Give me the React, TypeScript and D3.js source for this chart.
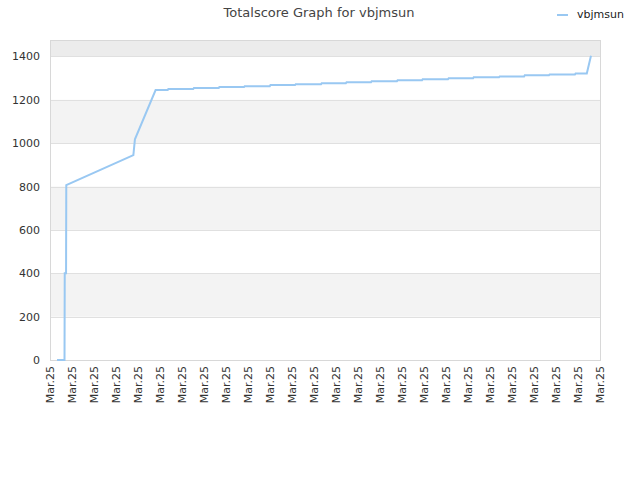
import React, { useEffect, useRef } from "react";
import * as d3 from "d3";

// time in tick units (0..25), score values
const times = [
    0.32, 0.66, 0.67, 0.73, 0.74, 3.79, 3.86, 4.8,
    5.35, 5.38, 6.51, 6.54, 7.67, 7.7, 8.82, 8.85, 9.99, 10.02,
    11.14, 11.17, 12.32, 12.35, 13.45, 13.48, 14.59, 14.62, 15.77, 15.8,
    16.91, 16.94, 18.09, 18.12, 19.23, 19.26, 20.41, 20.44, 21.55, 21.58,
    22.68, 22.71, 23.86, 23.89, 24.4, 24.59,
];
const scores = [
    0, 0, 400, 400, 807, 945, 1018, 1245,
    1245, 1250, 1250, 1254, 1254, 1259, 1259, 1263, 1263, 1268,
    1268, 1272, 1272, 1277, 1277, 1281, 1281, 1286, 1286, 1290,
    1290, 1295, 1295, 1299, 1299, 1304, 1304, 1308, 1308, 1313,
    1313, 1317, 1317, 1322, 1322, 1403,
];
const tickLabels = d3.range(26).map(() => "Mar.25");
const yTicks = [0, 200, 400, 600, 800, 1000, 1200, 1400];
const seriesName = "vbjmsun";
const title = "Totalscore Graph for vbjmsun";

const LineGraph: React.FC = () => {
    const svgRef = useRef<SVGSVGElement | null>(null);

    useEffect(() => {
        if (!svgRef.current) return;
        const svgEl = d3.select(svgRef.current);
        svgEl.selectAll("*").remove();

        const width = 640;
        const height = 480;
        const margin = { top: 40, right: 40, bottom: 120, left: 50 };
        const innerWidth = width - margin.left - margin.right;
        const innerHeight = height - margin.top - margin.bottom;
        const font = "DejaVu Sans, sans-serif";

        const data = times.map((t, i) => ({ t, v: scores[i] }));

        const xScale = d3.scaleLinear().domain([0, tickLabels.length - 1]).range([0, innerWidth]);
        const yScale = d3
            .scaleLinear()
            .domain([0, (d3.max(scores) ?? 0) * 1.052])
            .range([innerHeight, 0]);

        svgEl.attr("width", width).attr("height", height);

        // Title
        svgEl
            .append("text")
            .attr("x", 319)
            .attr("y", 17)
            .attr("text-anchor", "middle")
            .attr("font-family", font)
            .attr("font-size", 13)
            .attr("fill", "#444")
            .text(title);

        // Legend
        svgEl
            .append("line")
            .attr("x1", 557)
            .attr("x2", 568)
            .attr("y1", 15)
            .attr("y2", 15)
            .attr("stroke", "#99c8f2")
            .attr("stroke-width", 2);
        svgEl
            .append("text")
            .attr("x", 577)
            .attr("y", 18)
            .attr("font-family", font)
            .attr("font-size", 11)
            .attr("fill", "#222")
            .text(seriesName);

        const svg = svgEl
            .append("g")
            .attr("transform", `translate(${margin.left},${margin.top})`);

        // Alternating bands
        const bandEdges = [...yTicks, yScale.domain()[1]];
        for (let i = 0; i < bandEdges.length - 1; i++) {
            const top = i === bandEdges.length - 2;
            if (i % 2 === 0 && !top) continue;
            svg
                .append("rect")
                .attr("x", 0)
                .attr("width", innerWidth)
                .attr("y", yScale(bandEdges[i + 1]))
                .attr("height", yScale(bandEdges[i]) - yScale(bandEdges[i + 1]))
                .attr("fill", top ? "#ececec" : "#f3f3f3");
        }

        // Grid lines
        svg
            .selectAll(".grid")
            .data(yTicks)
            .enter()
            .append("line")
            .attr("x1", 0)
            .attr("x2", innerWidth)
            .attr("y1", (d) => Math.round(yScale(d)) + 0.5)
            .attr("y2", (d) => Math.round(yScale(d)) + 0.5)
            .attr("stroke", "#e0e0e0");

        // Border
        svg
            .append("rect")
            .attr("x", 0.5)
            .attr("y", 0.5)
            .attr("width", innerWidth)
            .attr("height", innerHeight)
            .attr("fill", "none")
            .attr("stroke", "#d8d8d8");

        // Y axis labels
        svg
            .selectAll(".ylab")
            .data(yTicks)
            .enter()
            .append("text")
            .attr("x", -10)
            .attr("y", (d) => yScale(d) + 4)
            .attr("text-anchor", "end")
            .attr("font-family", font)
            .attr("font-size", 11)
            .attr("fill", "#333")
            .text((d) => String(d));

        // X axis labels
        svg
            .selectAll(".xlab")
            .data(tickLabels)
            .enter()
            .append("text")
            .attr("transform", (_, i) => `translate(${xScale(i) + 4},${innerHeight + 6}) rotate(-90)`)
            .attr("text-anchor", "end")
            .attr("font-family", font)
            .attr("font-size", 11)
            .attr("fill", "#333")
            .text((d) => d);

        // Line
        const lineGen = d3
            .line<{ t: number; v: number }>()
            .x((d) => xScale(d.t))
            .y((d) => yScale(d.v));

        svg
            .append("path")
            .datum(data)
            .attr("fill", "none")
            .attr("stroke", "#99c8f2")
            .attr("stroke-width", 2)
            .attr("d", lineGen);
    }, []);

    return <svg ref={svgRef} />;
};

export default function App() {
    return (
        <div style={{ position: "absolute", left: 0, top: 0 }}>
            <LineGraph />
        </div>
    );
}
